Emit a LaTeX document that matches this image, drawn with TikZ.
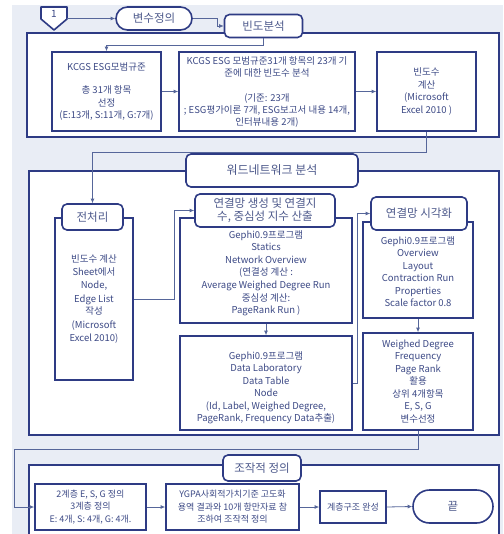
\documentclass[tikz,border=0pt]{standalone}
\usepackage{fontspec}
\setmainfont{Noto Sans CJK KR}
\usetikzlibrary{arrows.meta}
\definecolor{bgc}{HTML}{E9EDF5}
\definecolor{navy}{HTML}{2E3B84}
\definecolor{txt}{HTML}{3D4A86}
\definecolor{ttxt}{HTML}{4E5A8C}
\definecolor{lnc}{HTML}{56669A}
\tikzset{
  sz/.style 2 args={minimum width=#1, minimum height=#2},
  frame/.style={draw=navy, line width=1.6pt, fill=white, inner sep=0pt},
  box/.style={draw=navy, line width=1.6pt, fill=white, text=txt, align=center, inner sep=1pt, font=\fontsize{9.5}{12.5}\selectfont},
  ttl/.style={draw=navy, line width=1.6pt, fill=white, rounded corners=5pt, text=ttxt, align=center, inner sep=1pt, font=\fontsize{11.5}{14}\selectfont},
  conn/.style={draw=lnc, line width=0.8pt, -{Latex[length=4.5pt,width=4pt]}},
}
\begin{document}
\begin{tikzpicture}[x=1pt,y=-1pt]
\useasboundingbox (0,0) rectangle (503,534);
\fill[bgc] (12,5) rectangle (503,534);

% frames
\node[frame, sz={472}{104}] (fr1) at (263,85) {};
\node[frame, sz={470}{264}] (fr2) at (264,303) {};
\node[frame, sz={470}{80}] (fr3) at (264,505) {};

% start marker
\draw[navy, line width=1.6pt, fill=white, line join=round] (41,7) -- (67,7) -- (67,19) -- (54,30) -- (41,19) -- cycle;
\node[text=txt, font=\fontsize{10}{12}\selectfont, inner sep=0pt] (pent) at (54,13.5) {1};
\coordinate (pentR) at (67,18.5);

% top titles
\node[ttl, sz={76}{23}, rounded corners=11.5pt] (v1) at (154,18.5) {변수정의};
\node[ttl, sz={78}{23}] (v2) at (263.5,26) {빈도분석};

% frame 1 boxes
\node[box, sz={109}{79}] (A) at (106.5,91.5) {KCGS ESG모범규준\\[11pt]총 31개 항목\\선정\\(E:13개, S:11개, G:7개)};
\node[box, sz={176}{79}, font=\fontsize{9.5}{12}\selectfont] (B) at (267,91.5) {KCGS ESG 모범규준31개 항목의 23개 기\\준에 대한 빈도수 분석\\[13pt](기준: 23개\\; ESG평가이론 7개, ESG보고서 내용 14개,\\인터뷰내용 2개)};
\node[box, sz={99}{79}] (C) at (426.5,91.5) {빈도수\\계산\\(Microsoft\\Excel 2010 )};

% frame 2
\node[box, sz={78}{162}, font=\fontsize{9.5}{13}\selectfont] (P) at (94,299) {빈도수 계산\\Sheet에서\\Node,\\Edge List\\작성\\(Microsoft\\Excel 2010)};
\node[box, sz={172}{105}, font=\fontsize{9.5}{12.6}\selectfont] (D) at (266,270.5) {\rule{0pt}{13pt}Gephi0.9프로그램\\Statics\\Network Overview\\(연결성 계산 :\\Average Weighed Degree Run\\중심성 계산:\\PageRank Run )};
\node[box, sz={172}{94}] (E) at (266,383) {\rule{0pt}{17pt}Gephi0.9프로그램\\Data Laboratory\\Data Table\\Node\\(Id, Label, Weighed Degree,\\PageRank, Frequency Data추출)};
\node[box, sz={110}{96}] (F) at (418,270) {\rule{0pt}{11pt}Gephi0.9프로그램\\Overview\\Layout\\Contraction Run\\Properties\\Scale factor 0.8};
\node[box, sz={110}{97}] (G) at (418,381.5) {Weighed Degree\\Frequency\\Page Rank\\활용\\상위 4개항목\\E, S, G\\변수선정};

\node[ttl, sz={172}{33}, font=\fontsize{12}{14}\selectfont] (t2) at (272,170.5) {워드네트워크 분석};
\node[ttl, sz={61}{26}] (tP) at (92.5,217) {전처리};
\node[ttl, sz={140}{33}, font=\fontsize{11.5}{13.5}\selectfont] (tD) at (265,210.5) {연결망 생성 및 연결지\\수, 중심성 지수 산출};
\node[ttl, sz={96}{33}] (tF) at (419,213.5) {연결망 시각화};

% frame 3
\node[box, sz={111}{46}, font=\fontsize{9}{12.5}\selectfont] (H) at (90.5,507) {2계층 E, S, G 정의\\3계층 정의\\E: 4개, S: 4개, G: 4개.};
\node[box, sz={133}{46}, font=\fontsize{9}{12.5}\selectfont] (I) at (232.5,507) {YGPA사회적가치기준 고도화\\용역 결과와 10개 항만자료 참\\조하여 조작적 정의};
\node[box, sz={66}{32}, font=\fontsize{9}{12}\selectfont] (J) at (353,507) {계층구조 완성};
\node[ttl, sz={80}{33}, rounded corners=16.5pt] (K) at (453,506.5) {끝};
\node[ttl, sz={78}{26}] (t3) at (262,468) {조작적 정의};

% connectors
\draw[conn] (pentR) -- (v1.west);
\draw[conn] (v1.east) -- ++(25,0) |- (v2.west);
\draw[conn] (v2.south) -- ++(0,7) -| (A.north);
\draw[conn] (A.east) -- (B.west);
\draw[conn] (B.east) -- (C.west);
\draw[conn] (C.south) -- ++(0,21) -| (tP.north);
\draw[conn] (P.east) -- ++(41,0) |- (tD.west);
\draw[conn] (D.south) -- (E.north);
\draw[conn] (E.east) -- ++(5,0) |- (tF.west);
\draw[conn] (F.south) -- (G.north);
\draw[conn] (G.south) |- (14,449) |- (H.west);
\draw[conn] (H.east) -- (I.west);
\draw[conn] (I.east) -- (J.west);
\draw[conn] (J.east) -- (K.west);
\end{tikzpicture}
\end{document}
